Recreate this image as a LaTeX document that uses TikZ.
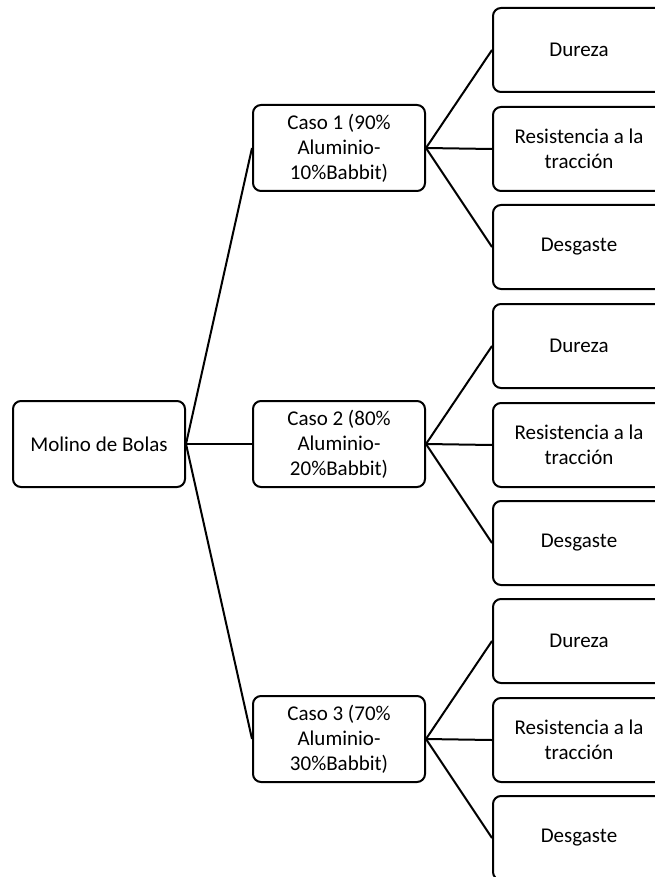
\documentclass[tikz,border=0pt]{standalone}
\usepackage{fontspec}
\setmainfont{Carlito}
\tikzset{
  caja/.style={draw, line width=2pt, rounded corners=8pt, minimum width=172pt,
    minimum height=86pt, align=center, inner sep=0pt,
    font=\fontsize{21}{25}\selectfont},
  hoja/.style={caja, minimum height=84pt},
  linea/.style={line width=2pt}
}
\begin{document}
\begin{tikzpicture}[x=1pt,y=-1pt]
\useasboundingbox (0,0) rectangle (654,877);
\node[caja] (molino) at (99,444) {Molino de Bolas};
% casos y propiedades
\foreach \i/\y/\p/\q in {1/148/90/10, 2/444/80/20, 3/739/70/30}{
  \node[caja] (caso\i) at (339,\y) {Caso \i{} (\p\%\\Aluminio-\\\q\%Babbit)};
  \node[hoja] (dureza\i) at (579,\y-98) {Dureza};
  \node[hoja] (resist\i) at (579,\y+1) {Resistencia a la\\tracción};
  \node[hoja] (desgaste\i) at (579,\y+99) {Desgaste};
  \draw[linea] (molino.east) -- (caso\i.west);
  \foreach \h in {dureza,resist,desgaste}
    \draw[linea] (caso\i.east) -- (\h\i.west);
}
\end{tikzpicture}
\end{document}
